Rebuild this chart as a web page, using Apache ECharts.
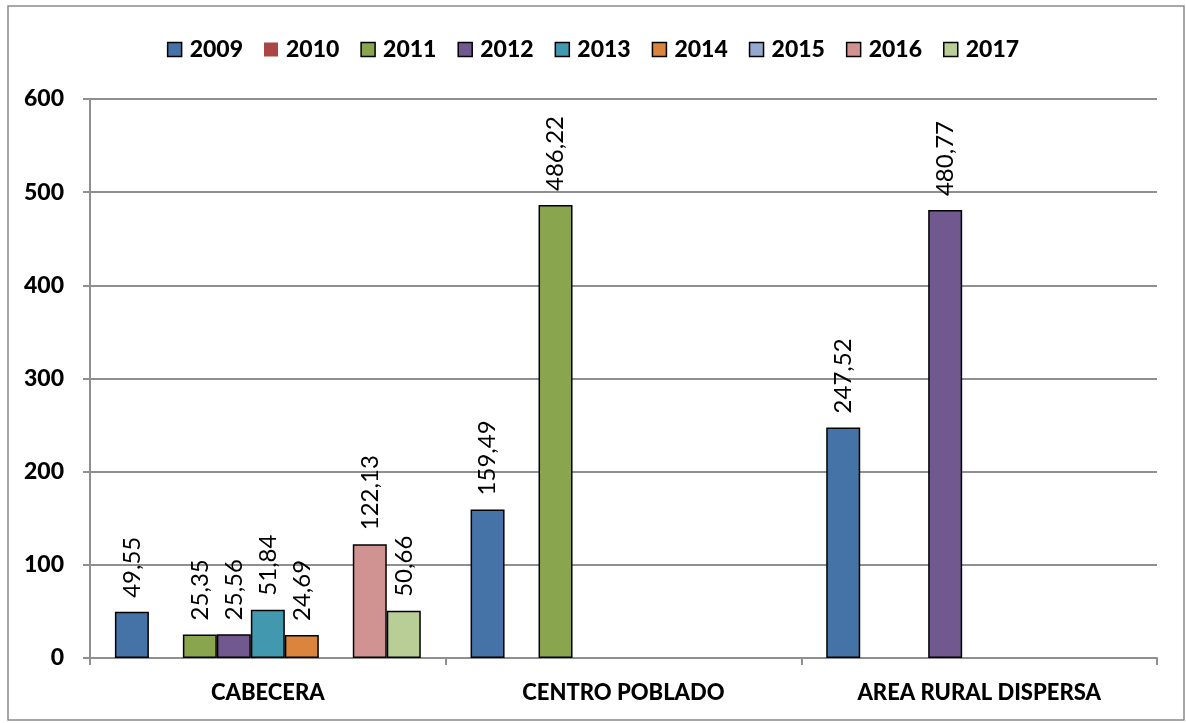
<!DOCTYPE html>
<html>
<head>
<meta charset="utf-8">
<script src="https://cdn.jsdelivr.net/npm/echarts@6/dist/echarts.min.js"></script>
<style>
  html, body { margin: 0; padding: 0; background: #fff; }
  #chart { width: 1186px; height: 723px; }
</style>
</head>
<body>
<div id="chart"></div>
<script>
// Zones and one series per year; null where a year has no value in a zone
const categories = ['CABECERA', 'CENTRO POBLADO', 'AREA RURAL DISPERSA'];
const years = ['2009', '2010', '2011', '2012', '2013', '2014', '2015', '2016', '2017'];
const v2009 = [49.55, 159.49, 247.52];
const v2010 = [null, null, null];
const v2011 = [25.35, 486.22, null];
const v2012 = [25.56, null, 480.77];
const v2013 = [51.84, null, null];
const v2014 = [24.69, null, null];
const v2015 = [null, null, null];
const v2016 = [122.13, null, null];
const v2017 = [50.66, null, null];
const yTicks = [0, 100, 200, 300, 400, 500, 600];

const seriesValues = [v2009, v2010, v2011, v2012, v2013, v2014, v2015, v2016, v2017];
const colors = ['#4572A7', '#AA4643', '#89A54E', '#71588F', '#4198AF', '#DB843D', '#93A9CF', '#D19392', '#B9CD96'];

const FONT = 'Lato, "Liberation Sans", sans-serif';
const GRID_GRAY = '#8f8f8f';

const chart = echarts.init(document.getElementById('chart'), null, { renderer: 'canvas' });

const series = years.map((y, i) => ({
  name: y,
  type: 'bar',
  data: seriesValues[i],
  barGap: '0%',
  barCategoryGap: '14%',
  itemStyle: { color: colors[i], borderColor: '#000', borderWidth: 1.5 },
  label: {
    show: true,
    position: 'top',
    rotate: 90,
    align: 'left',
    verticalAlign: 'middle',
    distance: 14,
    color: '#000',
    fontFamily: FONT,
    fontSize: 24,
    formatter: p => p.value == null ? '' : p.value.toFixed(2).replace('.', ',')
  }
}));

chart.setOption({
  animation: false,
  color: colors,
  graphic: [{
    type: 'rect',
    shape: { x: 8, y: 6, width: 1176, height: 714 },
    style: { fill: 'none', stroke: '#8a8a8a', lineWidth: 1.5 },
    z: 0
  }],
  legend: {
    top: 33,
    left: 'center',
    itemWidth: 14,
    itemHeight: 14,
    itemGap: 21,
    icon: 'rect',
    textStyle: { fontFamily: FONT, fontWeight: 900, fontSize: 23, color: '#000', padding: [0, 0, 0, 3] },
    data: years.map((y, i) => (
      i === 1
        ? { name: y, itemStyle: { borderWidth: 0 } }
        : { name: y, itemStyle: { borderColor: '#000', borderWidth: 1.5 } }
    ))
  },
  grid: { left: 90, right: 29, top: 99, bottom: 65, containLabel: false },
  xAxis: {
    type: 'category',
    data: categories,
    boundaryGap: true,
    axisLine: { show: true, lineStyle: { color: GRID_GRAY, width: 2 } },
    axisTick: { show: true, alignWithLabel: false, length: 7, lineStyle: { color: GRID_GRAY, width: 2 } },
    axisLabel: { margin: 24, fontFamily: FONT, fontWeight: 900, fontSize: 22, color: '#000' }
  },
  yAxis: {
    type: 'value',
    min: yTicks[0],
    max: yTicks[yTicks.length - 1],
    interval: yTicks[1] - yTicks[0],
    axisLine: { show: true, lineStyle: { color: GRID_GRAY, width: 2 } },
    axisTick: { show: true, length: 7, lineStyle: { color: GRID_GRAY, width: 2 } },
    splitLine: { show: true, lineStyle: { color: GRID_GRAY, width: 2 } },
    axisLabel: { margin: 26, fontFamily: FONT, fontWeight: 900, fontSize: 23, color: '#000' }
  },
  series: series
});
</script>
</body>
</html>
